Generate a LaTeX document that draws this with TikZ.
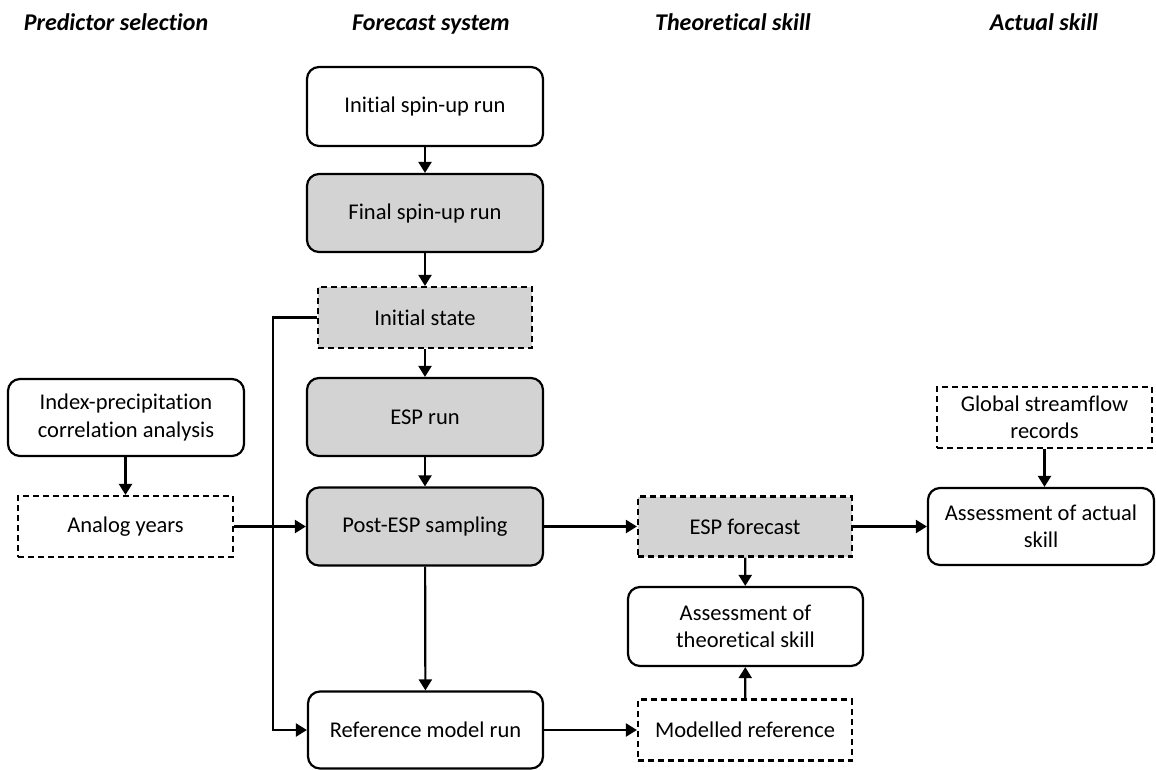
\documentclass[tikz,border=0pt]{standalone}
\usepackage{fontspec}
\setmainfont[Ligatures={NoCommon}]{Carlito}
\usetikzlibrary{arrows.meta}
\definecolor{boxgray}{RGB}{211,211,211}
\tikzset{
  box/.style={draw=black, line width=2.2pt, rounded corners=12pt, align=center,
    font=\fontsize{22.5}{27.5}\selectfont, inner sep=0pt},
  grayfill/.style={fill=boxgray},
  dbox/.style={draw=black, line width=2.2pt, dash pattern=on 6pt off 4pt, align=center,
    font=\fontsize{22.5}{27.5}\selectfont, inner sep=0pt},
  head/.style={font=\fontsize{24}{28}\selectfont\bfseries\itshape, anchor=base},
  conn/.style={line width=2.2pt, -{Triangle[length=11pt,width=13pt]}},
}
\begin{document}
\begin{tikzpicture}[x=1pt,y=-1pt]
\useasboundingbox (0,0) rectangle (1156,769);
% headers
\node[head] (h1) at (116,30) {Predictor selection};
\node[head] (h2) at (431,30) {Forecast system};
\node[head] (h3) at (733,30) {Theoretical skill};
\node[head] (h4) at (1044,30) {Actual skill};
% forecast system column
\node[box, minimum width=236pt, minimum height=79pt] (init) at (425,106.5) {Initial spin-up run};
\node[box, grayfill, minimum width=236pt, minimum height=78pt] (final) at (425,213) {Final spin-up run};
\node[dbox, grayfill, minimum width=214pt, minimum height=61pt] (state) at (425,317.5) {Initial state};
\node[box, grayfill, minimum width=236pt, minimum height=78pt] (esp) at (425,417) {ESP run};
\node[box, grayfill, minimum width=236pt, minimum height=78pt] (post) at (425,526.5) {Post-ESP sampling};
\node[box, minimum width=235pt, minimum height=77pt] (ref) at (425.5,730) {Reference model run};
% predictor selection
\node[box, minimum width=236pt, minimum height=77pt] (idx) at (126,417.5) {Index-precipitation\\correlation analysis};
\node[dbox, minimum width=215pt, minimum height=61pt] (analog) at (125.5,526.5) {Analog years};
% theoretical skill
\node[dbox, grayfill, minimum width=214pt, minimum height=60pt] (espf) at (745,526.5) {ESP forecast};
\node[box, minimum width=235pt, minimum height=79pt] (assth) at (745.5,626.5) {Assessment of\\theoretical skill};
\node[dbox, minimum width=214pt, minimum height=61pt] (modref) at (745,730) {Modelled reference};
% actual skill
\node[dbox, minimum width=215pt, minimum height=61pt] (glob) at (1044.5,417.5) {Global streamflow\\records};
\node[box, minimum width=226pt, minimum height=77pt] (assact) at (1041,526.5) {Assessment of actual\\skill};
% connectors
\draw[conn] (init) -- (final);
\draw[conn] (final) -- (state);
\draw[conn] (state) -- (esp);
\draw[conn] (esp) -- (post);
\draw[conn] (post) -- (ref);
\draw[conn] (idx.south -| analog.north) -- (analog);
\draw[conn] (analog) -- (post);
\draw[conn] (post) -- (espf);
\draw[conn] (espf) -- (assact);
\draw[conn] (espf) -- (assth);
\draw[conn] (modref) -- (assth);
\draw[conn] (glob) -- (glob.south |- assact.north);
\draw[conn] (ref) -- (modref);
\coordinate (lc) at (273,317.5);
\draw[conn] (state.west) -- (lc) |- (ref.west);
\end{tikzpicture}
\end{document}
